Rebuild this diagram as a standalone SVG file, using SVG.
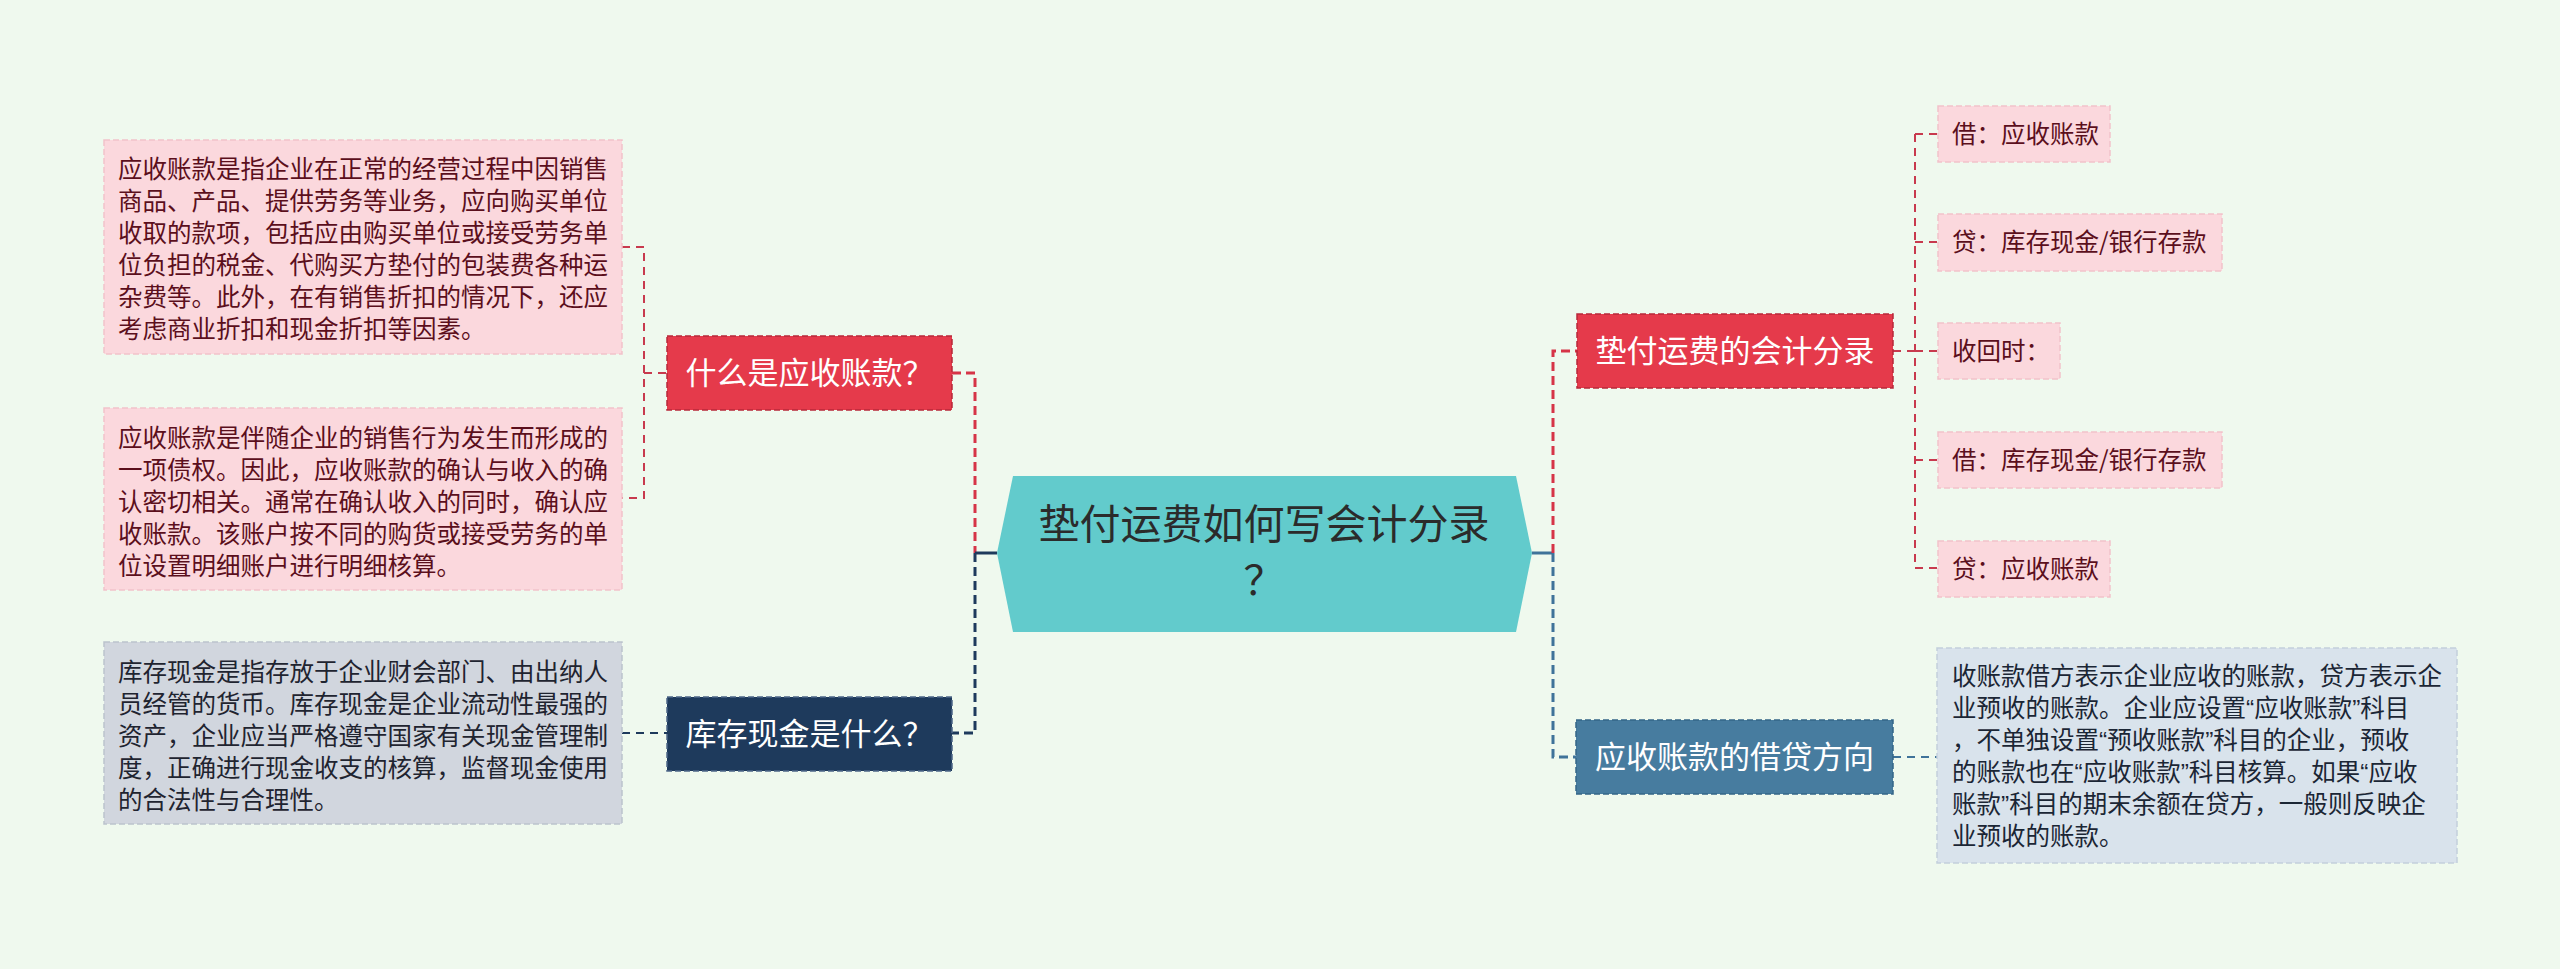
<svg xmlns="http://www.w3.org/2000/svg" width="2560" height="969" viewBox="0 0 2560 969">
<style>
text{font-family:"Noto Sans CJK SC","Noto Sans",sans-serif}
.pk{fill:#fbd8dd;stroke:#f2c2ca;stroke-width:1.5;stroke-dasharray:6 3}
.pkt{fill:#5b0f1c;font-size:24.5px}
.gy{fill:#d1d6de;stroke:#bcc3cd;stroke-width:1.5;stroke-dasharray:6 3}
.gyt{fill:#1f2430;font-size:24.5px}
.lb{fill:#d9e3ec;stroke:#c3d0dc;stroke-width:1.5;stroke-dasharray:6 3}
.lbt{fill:#1b2635;font-size:24.5px;font-family:"Liberation Sans","Noto Sans CJK SC",sans-serif}
.rd{fill:#e53a4b;stroke:#b8283a;stroke-width:1.5;stroke-dasharray:6 3}
.nv{fill:#1e3a5c;stroke:#4d6788;stroke-width:1.5;stroke-dasharray:6 3}
.st{fill:#477c9f;stroke:#356688;stroke-width:1.5;stroke-dasharray:6 3}
.nt{fill:#ffffff;font-size:31px;text-anchor:middle}
.c{fill:none}
.cr{stroke:#d63447;stroke-width:3;stroke-dasharray:9 5}
.crt{stroke:#c83a4e;stroke-width:2;stroke-dasharray:8 6}
.cn{stroke:#1e3a5c;stroke-width:3;stroke-dasharray:9 5}
.cnt{stroke:#1e3a5c;stroke-width:2;stroke-dasharray:8 6}
.cb{stroke:#3f7399;stroke-width:3;stroke-dasharray:9 5}
.cbt{stroke:#3f7399;stroke-width:2;stroke-dasharray:8 6}
</style>
<rect x="0" y="0" width="2560" height="969" fill="#eff9ee"/>
<g id="connectors" class="c">
<path class="cr" d="M952 373H975V553"/>
<path d="M975 553H997" stroke="#1e3a5c" stroke-width="3"/>
<path class="cn" d="M975 553V733H952"/>
<path class="crt" d="M622 247H644V498H622M644 373H667"/>
<path class="cnt" d="M622 733H667"/>
<path d="M1532 553H1553" stroke="#3f7399" stroke-width="3"/>
<path class="cr" d="M1553 553V351H1577"/>
<path class="cb" d="M1553 553V757H1576"/>
<path class="crt" d="M1893 351H1915M1915 134V568M1915 134H1938M1915 242H1938M1915 351H1938M1915 460H1938M1915 568H1938"/>
<path class="cbt" d="M1893 757H1937"/>
</g>
<g id="root">
<polygon points="1013,476 1516,476 1532,553 1516,632 1013,632 997,553" fill="#62cbcc"/>
<text x="1264" y="539" font-size="41" fill="#2b2b2b" text-anchor="middle">垫付运费如何写会计分录</text>
<text x="1264" y="595" font-size="41" fill="#2b2b2b" text-anchor="middle">？</text>
</g>
<g id="n-what-ar">
<rect class="rd" x="667" y="336" width="285" height="74"/>
<text class="nt" x="809.5" y="384">什么是应收账款？</text>
</g>
<g id="n-what-ar-1">
<rect class="pk" x="104" y="140" width="518" height="214"/>
<text class="pkt"><tspan x="118" y="178">应收账款是指企业在正常的经营过程中因销售</tspan><tspan x="118" y="210">商品、产品、提供劳务等业务，应向购买单位</tspan><tspan x="118" y="242">收取的款项，包括应由购买单位或接受劳务单</tspan><tspan x="118" y="274">位负担的税金、代购买方垫付的包装费各种运</tspan><tspan x="118" y="306">杂费等。此外，在有销售折扣的情况下，还应</tspan><tspan x="118" y="338">考虑商业折扣和现金折扣等因素。</tspan></text>
</g>
<g id="n-what-ar-2">
<rect class="pk" x="104" y="408" width="518" height="182"/>
<text class="pkt"><tspan x="118" y="447">应收账款是伴随企业的销售行为发生而形成的</tspan><tspan x="118" y="479">一项债权。因此，应收账款的确认与收入的确</tspan><tspan x="118" y="511">认密切相关。通常在确认收入的同时，确认应</tspan><tspan x="118" y="543">收账款。该账户按不同的购货或接受劳务的单</tspan><tspan x="118" y="575">位设置明细账户进行明细核算。</tspan></text>
</g>
<g id="n-cash">
<rect class="nv" x="667" y="697" width="285" height="74"/>
<text class="nt" x="809.5" y="745">库存现金是什么？</text>
</g>
<g id="n-cash-1">
<rect class="gy" x="104" y="642" width="518" height="182"/>
<text class="gyt"><tspan x="118" y="681">库存现金是指存放于企业财会部门、由出纳人</tspan><tspan x="118" y="713">员经管的货币。库存现金是企业流动性最强的</tspan><tspan x="118" y="745">资产，企业应当严格遵守国家有关现金管理制</tspan><tspan x="118" y="777">度，正确进行现金收支的核算，监督现金使用</tspan><tspan x="118" y="809">的合法性与合理性。</tspan></text>
</g>
<g id="n-entry">
<rect class="rd" x="1577" y="314" width="316" height="74"/>
<text class="nt" x="1735" y="362">垫付运费的会计分录</text>
</g>
<g id="leaf-1">
<rect class="pk" x="1938" y="106" width="172" height="56"/>
<text class="pkt" x="1952" y="143">借：应收账款</text>
</g>
<g id="leaf-2">
<rect class="pk" x="1938" y="214" width="284" height="57"/>
<text class="pkt" x="1952" y="251">贷：库存现金/银行存款</text>
</g>
<g id="leaf-3">
<rect class="pk" x="1938" y="323" width="122" height="56"/>
<text class="pkt" x="1952" y="360">收回时：</text>
</g>
<g id="leaf-4">
<rect class="pk" x="1938" y="432" width="284" height="56"/>
<text class="pkt" x="1952" y="469">借：库存现金/银行存款</text>
</g>
<g id="leaf-5">
<rect class="pk" x="1938" y="541" width="172" height="56"/>
<text class="pkt" x="1952" y="578">贷：应收账款</text>
</g>
<g id="n-direction">
<rect class="st" x="1576" y="720" width="317" height="74"/>
<text class="nt" x="1734.5" y="768">应收账款的借贷方向</text>
</g>
<g id="n-direction-1">
<rect class="lb" x="1937" y="648" width="520" height="215"/>
<text class="lbt"><tspan x="1952" y="685">收账款借方表示企业应收的账款，贷方表示企</tspan><tspan x="1952" y="717">业预收的账款。企业应设置“应收账款”科目</tspan><tspan x="1952" y="749">，不单独设置“预收账款”科目的企业，预收</tspan><tspan x="1952" y="781">的账款也在“应收账款”科目核算。如果“应收</tspan><tspan x="1952" y="813">账款”科目的期末余额在贷方，一般则反映企</tspan><tspan x="1952" y="845">业预收的账款。</tspan></text>
</g>
</svg>
